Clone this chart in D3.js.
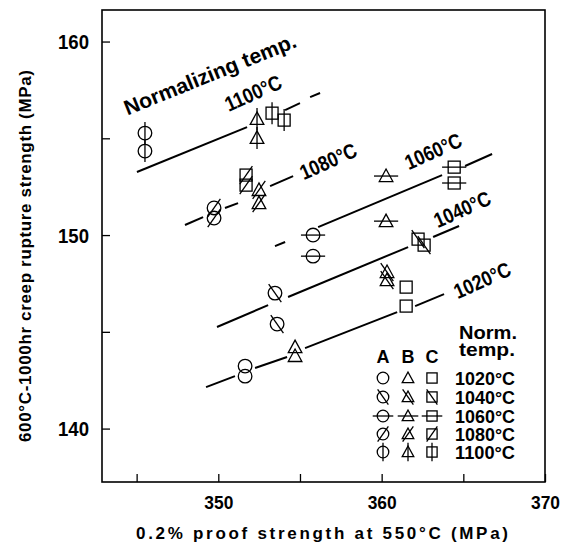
<!DOCTYPE html>
<html>
<head>
<meta charset="utf-8">
<script src="https://d3js.org/d3.v7.min.js"></script>
<style>
  body { margin: 0; background: #fff; }
  svg { display: block; }
  .narrow { font-family: "Liberation Sans", Arial, sans-serif; font-weight: bold; }
  .wide { font-family: "Liberation Sans", Arial, sans-serif; font-weight: bold; }
</style>
</head>
<body>
<svg width="569" height="547"></svg>
<script>
// normalizing temperatures and steels
const temps = ["1020", "1040", "1060", "1080", "1100"];
const steels = ["A", "B", "C"];

// points [temp, 0.2% proof strength, creep rupture strength]
const steelA = [
  ["1100", 345.51, 155.27], ["1100", 345.51, 154.34],
  ["1080", 349.74, 151.40], ["1080", 349.74, 150.88],
  ["1060", 355.80, 150.00], ["1060", 355.80, 148.91],
  ["1040", 353.47, 147.00], ["1040", 353.60, 145.40],
  ["1020", 351.64, 143.23], ["1020", 351.64, 142.71]
];
const steelB = [
  ["1100", 352.37, 156.00], ["1100", 352.37, 155.02],
  ["1080", 352.49, 152.33], ["1080", 352.49, 151.65],
  ["1060", 360.27, 153.05], ["1060", 360.27, 150.72],
  ["1040", 360.33, 148.09], ["1040", 360.33, 147.67],
  ["1020", 354.70, 144.21], ["1020", 354.70, 143.75]
];
const steelC = [
  ["1100", 353.29, 156.30], ["1100", 354.03, 155.94],
  ["1080", 351.70, 153.10], ["1080", 351.70, 152.58],
  ["1060", 364.44, 153.51], ["1060", 364.44, 152.69],
  ["1040", 362.23, 149.79], ["1040", 362.60, 149.48],
  ["1020", 361.50, 147.31], ["1020", 361.50, 146.33]
];

// fitted lines, drawn as pieces (gaps where they cross the marks)
const line1100 = [[[345.02, 153.26], [351.76, 155.58]], [[354.09, 156.46], [355.00, 156.82]], [[355.62, 157.13], [356.23, 157.34]]];
const line1080 = [[[347.96, 150.52], [349.07, 150.93]], [[350.41, 151.40], [351.21, 151.65]], [[353.17, 152.53], [354.58, 153.05]]];
const line1060 = [[[353.47, 149.43], [354.09, 149.64]], [[356.11, 150.41], [363.70, 153.10]], [[365.11, 153.57], [366.76, 154.19]]];
const line1040 = [[[349.92, 145.25], [353.05, 146.38]], [[354.27, 146.80], [361.62, 149.38]], [[363.15, 149.90], [364.74, 150.47]]];
const line1020 = [[[349.25, 142.14], [351.02, 142.71]], [[352.25, 143.13], [354.21, 143.70]], [[355.31, 144.16], [360.95, 146.02]], [[362.05, 146.33], [363.82, 146.95]]];

// line labels [text, x, y]
const lineLabels = [
  ["1100°C", 352.13, 157.34],
  ["1080°C", 356.72, 153.82],
  ["1060°C", 363.15, 154.34],
  ["1040°C", 364.92, 151.34],
  ["1020°C", 366.15, 147.67]
];

const xTicks = [345, 350, 355, 360, 365, 370];
const xTickLabels = [350, 360, 370];
const yTicks = [140, 145, 150, 155, 160];
const yTickLabels = [140, 150, 160];

const svg = d3.select("svg");
const pLeft = 102, pRight = 545, pTop = 10, pBottom = 482;

const x = d3.scaleLinear().domain([342.88, 370]).range([pLeft, pRight]);
const y = d3.scaleLinear().domain([137.24, 161.63]).range([pBottom, pTop]);

// marker style per temperature
const modOf = { "1020": "none", "1040": "back", "1060": "horiz", "1080": "slash", "1100": "vert" };
const shapeOf = { A: "circle", B: "triangle", C: "square" };

function marker(g, shape, mod, cx, cy, s) {
  const m = g.append("g").attr("transform", "translate(" + cx + "," + cy + ")")
    .attr("fill", "none").attr("stroke", "#000").attr("stroke-width", 1.3);
  if (shape == "circle") m.append("circle").attr("r", 6.8 * s);
  if (shape == "triangle") m.append("path").attr("d", "M0," + (-7 * s) + "L" + (-6.8 * s) + "," + (5.5 * s) + "L" + (6.8 * s) + "," + (5.5 * s) + "Z");
  if (shape == "square") m.append("rect").attr("x", -6 * s).attr("y", -6 * s).attr("width", 12 * s).attr("height", 12 * s);
  const L = 11 * s;
  const a = 55 * Math.PI / 180;
  if (mod == "vert") m.append("line").attr("y1", -L).attr("y2", L);
  if (mod == "horiz") m.append("line").attr("x1", -L * 1.1).attr("x2", L * 1.1);
  if (mod == "slash") m.append("line").attr("x1", -L * Math.cos(a)).attr("y1", L * Math.sin(a)).attr("x2", L * Math.cos(a)).attr("y2", -L * Math.sin(a));
  if (mod == "back") m.append("line").attr("x1", -L * Math.cos(a)).attr("y1", -L * Math.sin(a)).attr("x2", L * Math.cos(a)).attr("y2", L * Math.sin(a));
}

// axes
const xAxis = svg.append("g").attr("transform", "translate(0," + pBottom + ")")
  .call(d3.axisBottom(x).tickValues(xTicks).tickSize(-8).tickSizeOuter(0)
    .tickFormat(d => xTickLabels.includes(d) ? d : ""));
xAxis.select(".domain").remove();
xAxis.selectAll("line").attr("stroke-width", 1.3);
xAxis.selectAll("text").filter(d => xTickLabels.includes(d))
  .attr("class", "narrow").attr("font-size", 19).attr("y", 27).attr("dy", null).attr("fill", "#000")
  .attr("textLength", 29).attr("lengthAdjust", "spacingAndGlyphs");

const yAxis = svg.append("g").attr("transform", "translate(" + pLeft + ",0)")
  .call(d3.axisLeft(y).tickValues(yTicks).tickSize(-8).tickSizeOuter(0).tickPadding(13)
    .tickFormat(d => yTickLabels.includes(d) ? d : ""));
yAxis.select(".domain").remove();
yAxis.selectAll("line").attr("stroke-width", 1.3);
yAxis.selectAll("text").filter(d => yTickLabels.includes(d))
  .attr("class", "narrow").attr("font-size", 20).attr("dy", "0.36em").attr("fill", "#000")
  .attr("textLength", 31).attr("lengthAdjust", "spacingAndGlyphs");

svg.append("rect").attr("x", pLeft).attr("y", pTop).attr("width", pRight - pLeft).attr("height", pBottom - pTop)
  .attr("fill", "none").attr("stroke", "#000").attr("stroke-width", 1.6);

// fitted lines
const plot = svg.append("g");
[line1020, line1040, line1060, line1080, line1100].forEach(function(segs) {
  segs.forEach(function(s) {
    plot.append("line")
      .attr("x1", x(s[0][0])).attr("y1", y(s[0][1]))
      .attr("x2", x(s[1][0])).attr("y2", y(s[1][1]))
      .attr("stroke", "#000").attr("stroke-width", 2);
  });
});

// points
[[steelA, "A"], [steelB, "B"], [steelC, "C"]].forEach(function(p) {
  p[0].forEach(function(d) {
    marker(plot, shapeOf[p[1]], modOf[d[0]], x(d[1]), y(d[2]), 1);
  });
});

// labels on the lines
plot.selectAll(".lab").data(lineLabels).enter().append("text")
  .attr("class", "narrow")
  .attr("font-size", 21)
  .attr("text-anchor", "middle")
  .attr("dominant-baseline", "central")
  .attr("textLength", 60).attr("lengthAdjust", "spacingAndGlyphs")
  .attr("transform", d => "translate(" + x(d[1]) + "," + y(d[2]) + ") rotate(-24)")
  .text(d => d[0]);

plot.append("text").attr("class", "wide")
  .attr("font-size", 21)
  .attr("text-anchor", "middle")
  .attr("dominant-baseline", "central")
  .attr("transform", "translate(" + x(349.49) + "," + y(158.32) + ") rotate(-22)")
  .attr("textLength", 184).attr("lengthAdjust", "spacingAndGlyphs")
  .text("Normalizing temp.");

// legend
const lg = svg.append("g");
const colX = [383, 408, 432];
const rowY = [378, 397, 416, 434, 452];
lg.append("text").attr("class", "wide").attr("font-size", 18).attr("x", 459).attr("y", 339)
  .attr("textLength", 58).attr("lengthAdjust", "spacingAndGlyphs").text("Norm.");
lg.append("text").attr("class", "wide").attr("font-size", 18).attr("x", 459).attr("y", 356)
  .attr("textLength", 56).attr("lengthAdjust", "spacingAndGlyphs").text("temp.");
steels.forEach(function(s, i) {
  lg.append("text").attr("class", "wide").attr("font-size", 18).attr("text-anchor", "middle")
    .attr("x", colX[i]).attr("y", 363).text(s);
});
temps.forEach(function(t, j) {
  steels.forEach(function(s, i) {
    marker(lg, shapeOf[s], modOf[t], colX[i], rowY[j], 0.85);
  });
  lg.append("text").attr("class", "narrow").attr("font-size", 19)
    .attr("x", 455).attr("y", rowY[j]).attr("dominant-baseline", "central")
    .attr("textLength", 60).attr("lengthAdjust", "spacingAndGlyphs")
    .text(t + "°C");
});

// axis titles
svg.append("text").attr("class", "wide").attr("font-size", 17)
  .attr("text-anchor", "middle").attr("x", 322).attr("y", 539)
  .attr("textLength", 372).attr("lengthAdjust", "spacing")
  .style("font-weight", "600")
  .text("0.2% proof strength at 550°C (MPa)");

svg.append("text").attr("class", "wide").attr("font-size", 17)
  .attr("text-anchor", "middle")
  .attr("transform", "translate(31,256) rotate(-90)")
  .attr("textLength", 372).attr("lengthAdjust", "spacing")
  .style("font-weight", "600")
  .text("600°C-1000hr creep rupture strength (MPa)");
</script>
</body>
</html>
